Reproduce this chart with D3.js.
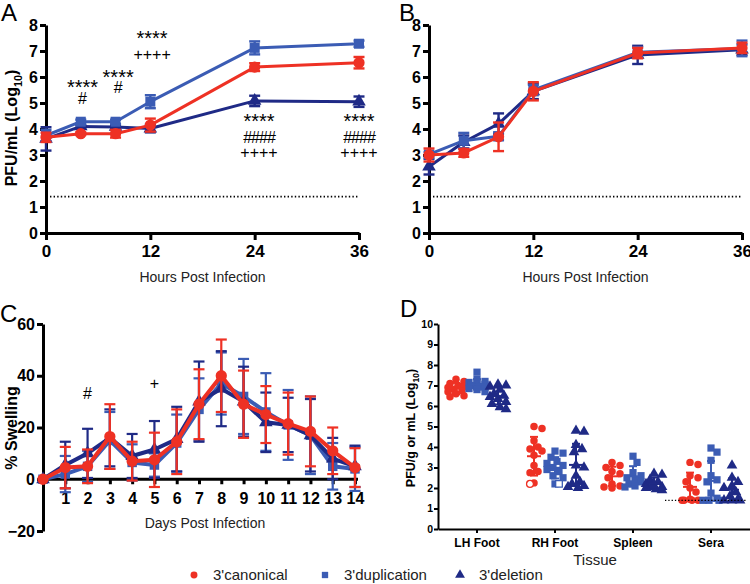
<!DOCTYPE html>
<html><head><meta charset="utf-8">
<script src="https://cdn.jsdelivr.net/npm/d3@7"></script>
<style>body{margin:0;background:#fff}</style>
</head><body><svg id="c" width="750" height="584"></svg>
<script>
// ---------- DATA ----------
const seriesNames = ["3'canonical", "3'duplication", "3'deletion"];
const seriesColors = ["#ee3124", "#3b5cb4", "#1f2a86"];

// Panel A (hours post infection, log10 PFU/mL)
const hours = [0, 4, 8, 12, 24, 36];
const aCanonical = [3.68, 3.82, 3.82, 4.15, 6.38, 6.55];
const aCanonicalErr = [0.18, 0.05, 0.15, 0.25, 0.15, 0.22];
const aDuplication = [3.75, 4.28, 4.28, 5.05, 7.12, 7.28];
const aDuplicationErr = [0.22, 0.08, 0.08, 0.25, 0.25, 0.12];
const aDeletion = [3.62, 4.10, 4.08, 4.02, 5.08, 5.05];
const aDeletionErr = [0.45, 0.05, 0.05, 0.15, 0.20, 0.20];

// Panel A significance annotations (hour, text, level in log units)
const annotHour = [4.2, 4.2, 8.3, 8.3, 12.2, 12.2, 24.5, 24.5, 24.5, 36, 36, 36];
const annotText = ["****", "#", "****", "#", "****", "++++", "****", "####", "++++", "****", "####", "++++"];
const annotLevel = [5.33, 4.98, 5.75, 5.38, 7.23, 6.65, 4.04, 3.46, 2.88, 4.04, 3.46, 2.88];

// Panel B
const bCanonical = [3.0, 3.08, 3.70, 5.45, 6.92, 7.12];
const bCanonicalErr = [0.25, 0.15, 0.55, 0.35, 0.20, 0.20];
const bDuplication = [3.02, 3.55, 3.72, 5.50, 6.95, 7.10];
const bDuplicationErr = [0.10, 0.30, 0.15, 0.20, 0.20, 0.30];
const bDeletion = [2.55, 3.50, 4.20, 5.45, 6.85, 7.05];
const bDeletionErr = [0.30, 0.25, 0.40, 0.30, 0.35, 0.20];

const limitOfDetection = 1.4;
const logTicks = [0, 1, 2, 3, 4, 5, 6, 7, 8];
const hourTicks = [0, 12, 24, 36];

// Panel C (% swelling)
const days = [0, 1, 2, 3, 4, 5, 6, 7, 8, 9, 10, 11, 12, 13, 14];
const cCanonical = [0, 4.5, 5, 16.5, 7, 7.5, 14.5, 29, 40, 29, 25, 21.5, 18.5, 11, 4.5];
const cCanonicalErr = [0, 8, 6.5, 12.5, 7.5, 10.5, 12.5, 13.5, 14, 13, 11, 12, 13.5, 9, 7.5];
const cDuplication = [0, 2, 5, 15, 6.5, 5.5, 14, 27, 37, 32, 26, 21, 17, 5, 4];
const cDuplicationErr = [0, 7, 6, 11, 7, 4.5, 11, 12, 12, 14.5, 15, 13.5, 15, 9, 8.5];
const cDeletion = [0, 5.5, 10, 16, 9, 11.5, 15.5, 30, 35, 30, 22, 21, 17, 8, 5];
const cDeletionErr = [0, 9, 9.5, 11, 8.5, 11, 12.5, 15.5, 14.5, 13.5, 11.5, 10.5, 14, 8, 8];
const swellTicks = [-20, 0, 20, 40, 60];
const cAnnotDay = [2, 5];
const cAnnotText = ["#", "+"];
const cAnnotLevel = [31, 35];

// Panel D (tissue titers, individual animals)
const tissues = ["LH Foot", "RH Foot", "Spleen", "Sera"];
const dCanonical = [
  [7.3, 7.2, 7.1, 7.0, 6.95, 6.9, 6.8, 6.75, 6.7, 6.6, 6.5, 6.45],
  [5.0, 4.9, 4.3, 4.0, 3.9, 3.8, 3.6, 3.1, 2.8, 2.75, 2.25],
  [3.25, 3.1, 3.0, 2.8, 2.7, 2.5, 2.2, 2.1, 2.05, 2.0],
  [3.25, 3.15, 2.6, 2.5, 2.3, 2.0, 1.8, 1.45, 1.4, 1.4, 1.4, 1.4]
];
const dDuplication = [
  [7.65, 7.3, 7.2, 7.15, 7.1, 7.05, 7.0, 6.95, 6.9, 6.85, 6.8, 6.7],
  [3.8, 3.7, 3.5, 3.3, 3.2, 3.1, 3.0, 2.9, 2.8, 2.6, 2.5, 2.2],
  [3.55, 3.25, 2.75, 2.6, 2.5, 2.4, 2.3, 2.2, 2.1, 2.05],
  [3.95, 3.75, 3.35, 2.6, 2.4, 2.3, 1.75, 1.5, 1.4, 1.4, 1.4]
];
const dDeletion = [
  [7.05, 7.0, 6.95, 6.8, 6.6, 6.5, 6.45, 6.35, 6.2, 6.1, 5.95, 5.85],
  [4.8, 4.75, 4.1, 3.9, 3.75, 3.1, 3.0, 2.6, 2.3, 2.2, 2.1, 2.05, 2.0],
  [2.7, 2.65, 2.4, 2.3, 2.2, 2.1, 2.05, 2.0, 1.95, 1.9],
  [3.1, 2.5, 2.3, 2.1, 2.0, 1.8, 1.6, 1.45, 1.4, 1.4, 1.4]
];
// hollow (open) symbols
const openTissue = ["RH Foot", "RH Foot"];
const openSeries = [0, 1];
const openValue = [2.2, 2.2];
const dTicks = [0, 1, 2, 3, 4, 5, 6, 7, 8, 9, 10];

// ---------- DRAWING ----------
const FONT = "'Liberation Sans', Arial, Helvetica, sans-serif";
const svg = d3.select("#c");
const shapes = [d3.symbolCircle, d3.symbolSquare, d3.symbolTriangle];

function styleAxis(g, fs, sw, weight) {
  g.select(".domain").attr("stroke", "#000").attr("stroke-width", sw);
  g.selectAll(".tick line").attr("stroke", "#000").attr("stroke-width", sw);
  g.selectAll(".tick text").attr("font-family", FONT).attr("font-size", fs)
    .attr("font-weight", weight || "bold").attr("fill", "#000");
}

function drawSeries(g, x, y, xs, vals, errs, si, o) {
  const color = seriesColors[si];
  const pts = xs.map((d, i) => ({ x: d, v: vals[i], e: errs[i] }));
  g.append("path").datum(pts)
    .attr("d", d3.line().x(d => x(d.x)).y(d => y(d.v)))
    .attr("fill", "none").attr("stroke", color).attr("stroke-width", o.lw)
    .attr("stroke-linejoin", "round");
  const eb = g.append("g").attr("stroke", color).attr("stroke-width", o.ew);
  const withErr = pts.filter(d => d.e > 0);
  eb.selectAll(".v").data(withErr).join("line")
    .attr("x1", d => x(d.x)).attr("x2", d => x(d.x))
    .attr("y1", d => y(d.v - d.e)).attr("y2", d => y(d.v + d.e));
  eb.selectAll(".t").data(withErr).join("line")
    .attr("x1", d => x(d.x) - o.cap / 2).attr("x2", d => x(d.x) + o.cap / 2)
    .attr("y1", d => y(d.v + d.e)).attr("y2", d => y(d.v + d.e));
  eb.selectAll(".b").data(withErr).join("line")
    .attr("x1", d => x(d.x) - o.cap / 2).attr("x2", d => x(d.x) + o.cap / 2)
    .attr("y1", d => y(d.v - d.e)).attr("y2", d => y(d.v - d.e));
  g.append("g").selectAll("path").data(pts).join("path")
    .attr("d", d3.symbol().type(shapes[si]).size(o.sizes[si]))
    .attr("transform", d => `translate(${x(d.x)},${y(d.v)})`)
    .attr("fill", color);
}

function panelLetter(t, x, y) {
  svg.append("text").attr("x", x).attr("y", y).text(t)
    .attr("font-family", FONT).attr("font-size", 24).attr("fill", "#000");
}

function axisTitle(t, x, y, fs) {
  svg.append("text").attr("x", x).attr("y", y).attr("text-anchor", "middle")
    .attr("font-family", FONT).attr("font-size", fs).attr("fill", "#222").text(t);
}

function logLabel(x, y, main, fs) {
  const t = svg.append("text").attr("transform", `translate(${x},${y}) rotate(-90)`)
    .attr("text-anchor", "middle").attr("font-family", FONT).attr("font-size", fs)
    .attr("font-weight", "bold").attr("fill", "#000");
  t.append("tspan").text(main + " (Log");
  t.append("tspan").text("10").attr("font-size", fs * 0.68).attr("dy", fs * 0.3);
  t.append("tspan").text(")").attr("dy", -fs * 0.3);
}

// ---- Panel A & B ----
function growthPanel(x0, x1, series, withAnnot) {
  const x = d3.scaleLinear([0, 36], [x0, x1]);
  const y = d3.scaleLinear([0, 8], [233, 25]);
  const g = svg.append("g");
  g.append("line").attr("x1", x(0) + 4).attr("x2", x(36)).attr("y1", y(limitOfDetection)).attr("y2", y(limitOfDetection))
    .attr("stroke", "#000").attr("stroke-width", 1.6).attr("stroke-dasharray", "1.4 2.2");
  const ya = g.append("g").attr("transform", `translate(${x0},0)`)
    .call(d3.axisLeft(y).tickValues(logTicks).tickSize(6).tickPadding(2).tickSizeOuter(0));
  styleAxis(ya, 16, 3);
  const xa = g.append("g").attr("transform", `translate(0,${y(0)})`)
    .call(d3.axisBottom(x).tickValues(hourTicks).tickSize(7).tickPadding(5).tickSizeOuter(0));
  styleAxis(xa, 17, 3);
  const o = { lw: 3, ew: 2.4, cap: 11, sizes: [100, 100, 80] };
  [2, 1, 0].forEach(si => drawSeries(g, x, y, hours, series[si][0], series[si][1], si, o));
  if (withAnnot) {
    g.append("g").selectAll("text").data(annotText).join("text")
      .attr("x", (d, i) => x(annotHour[i])).attr("y", (d, i) => y(annotLevel[i]))
      .attr("text-anchor", "middle").attr("font-family", FONT)
      .attr("font-size", d => d === "****" ? 20 : 16)
      .attr("letter-spacing", d => d === "####" ? -1 : 0)
      .attr("fill", "#000").text(d => d);
  }
  axisTitle("Hours Post Infection", (x0 + x1) / 2, 282, 14);
}
growthPanel(46, 359, [[aCanonical, aCanonicalErr], [aDuplication, aDuplicationErr], [aDeletion, aDeletionErr]], true);
growthPanel(429, 742, [[bCanonical, bCanonicalErr], [bDuplication, bDuplicationErr], [bDeletion, bDeletionErr]], false);
logLabel(17, 128, "PFU/mL", 16);
panelLetter("A", 1, 21);
panelLetter("B", 399, 21);

// ---- Panel C ----
{
  const x = d3.scaleLinear([0, 14], [43, 355]);
  const y = d3.scaleLinear([-20, 60], [531, 324]);
  const g = svg.append("g");
  const ya = g.append("g").attr("transform", `translate(${x(0)},0)`)
    .call(d3.axisLeft(y).tickValues(swellTicks).tickSize(6).tickPadding(2).tickSizeOuter(0));
  styleAxis(ya, 16, 3);
  const xa = g.append("g").attr("transform", `translate(0,${y(0)})`)
    .call(d3.axisBottom(x).tickValues(days.slice(1)).tickSize(5).tickPadding(8).tickSizeOuter(0));
  xa.select(".domain").attr("d", `M${x(0)},0H${x(14) + 3}`);
  styleAxis(xa, 16, 3);
  const o = { lw: 4, ew: 2.2, cap: 11, sizes: [100, 90, 80] };
  const cs = [[cCanonical, cCanonicalErr], [cDuplication, cDuplicationErr], [cDeletion, cDeletionErr]];
  [1, 2, 0].forEach(si => drawSeries(g, x, y, days, cs[si][0], cs[si][1], si, o));
  g.append("g").selectAll("text").data(cAnnotText).join("text")
    .attr("x", (d, i) => x(cAnnotDay[i])).attr("y", (d, i) => y(cAnnotLevel[i]))
    .attr("text-anchor", "middle").attr("font-family", FONT).attr("font-size", 16)
    .attr("fill", "#000").text(d => d);
  axisTitle("Days Post Infection", 205, 528, 14);
  svg.append("text").attr("transform", "translate(17,428) rotate(-90)").attr("text-anchor", "middle")
    .attr("font-family", FONT).attr("font-size", 16).attr("font-weight", "bold").text("% Swelling");
  panelLetter("C", 0, 322);
}

// ---- Panel D ----
{
  const x = d3.scaleBand(tissues, [438, 750]);
  const sub = d3.scalePoint([0, 1, 2], [-21, 21]);
  const y = d3.scaleLinear([0, 10], [529, 324]);
  const g = svg.append("g");
  const ya = g.append("g").attr("transform", `translate(438,0)`)
    .call(d3.axisLeft(y).tickValues(dTicks).tickSize(4).tickPadding(1).tickSizeOuter(0));
  styleAxis(ya, 10.5, 2);
  const xa = g.append("g").attr("transform", `translate(0,${y(0)})`)
    .call(d3.axisBottom(x).tickSize(4).tickPadding(5).tickSizeOuter(0));
  styleAxis(xa, 12, 2);

  const data = [dCanonical, dDuplication, dDeletion];
  const r = 3.4;
  function swarm(vals) {
    const pts = vals.map(v => ({ v, py: y(v) })).sort((a, b) => a.py - b.py);
    const cands = [0];
    for (let k = 1; k <= 4; k++) { cands.push(k * 2, -k * 2); }
    const placed = [];
    pts.forEach(p => {
      let best = 0, bestOv = Infinity;
      for (const c of cands) {
        let ov = 0;
        placed.forEach(q => { const d = Math.hypot(q.dx - c, q.py - p.py); if (d < 2 * r) ov += 2 * r - d; });
        if (ov < bestOv - 0.01) { bestOv = ov; best = c; }
        if (ov === 0) break;
      }
      p.dx = best; placed.push(p);
    });
    return placed;
  }
  const sizes = [44, 52, 50];
  tissues.forEach((t, ti) => {
    const cx0 = x(t) + x.bandwidth() / 2;
    [0, 1, 2].forEach(si => {
      const cx = cx0 + sub(si);
      const color = seriesColors[si];
      const vals = data[si][ti];
      const pts = swarm(vals);
      g.append("g").selectAll("path").data(pts).join("path")
        .attr("d", d3.symbol().type(shapes[si]).size(sizes[si]))
        .attr("transform", d => `translate(${cx + d.dx},${d.py})`).attr("fill", color);
      const all = vals.concat(openValue.filter((v, k) => openTissue[k] === t && openSeries[k] === si));
      const m = d3.mean(all), sd = d3.deviation(all);
      const eb = g.append("g").attr("stroke", color).attr("stroke-width", 2);
      eb.append("line").attr("x1", cx).attr("x2", cx).attr("y1", y(m - sd)).attr("y2", y(m + sd));
      eb.append("line").attr("x1", cx - 4).attr("x2", cx + 4).attr("y1", y(m + sd)).attr("y2", y(m + sd));
      eb.append("line").attr("x1", cx - 4).attr("x2", cx + 4).attr("y1", y(m - sd)).attr("y2", y(m - sd));
      eb.append("line").attr("x1", cx - 7).attr("x2", cx + 7).attr("y1", y(m)).attr("y2", y(m));
    });
  });
  // open symbols
  g.append("g").selectAll("path").data(openValue).join("path")
    .attr("d", (d, k) => d3.symbol().type(shapes[openSeries[k]]).size(sizes[openSeries[k]] * 0.85)())
    .attr("transform", (d, k) => {
      const cx = x(openTissue[k]) + x.bandwidth() / 2 + sub(openSeries[k]);
      return `translate(${cx + (openSeries[k] === 0 ? -4 : 4)},${y(d)})`;
    })
    .attr("fill", "#fff").attr("stroke", (d, k) => seriesColors[openSeries[k]]).attr("stroke-width", 1.3);
  // limit of detection line for sera (drawn over points)
  g.append("line").attr("x1", x("Sera") + x.bandwidth() / 2 - 46).attr("x2", x("Sera") + x.bandwidth() / 2 + 36)
    .attr("y1", y(limitOfDetection)).attr("y2", y(limitOfDetection))
    .attr("stroke", "#000").attr("stroke-width", 1.3).attr("stroke-dasharray", "1.3 2");

  axisTitle("Tissue", 595, 565, 15);
  logLabel(415, 428, "PFU/g or mL", 12.5);
  panelLetter("D", 400, 317);
}

// ---- Legend ----
{
  const lx = [194, 325, 460];
  const lg = svg.append("g");
  seriesNames.forEach((n, i) => {
    lg.append("path").attr("d", d3.symbol().type(shapes[i]).size([38, 40, 42][i]))
      .attr("transform", `translate(${lx[i]},575)`).attr("fill", seriesColors[i]);
    lg.append("text").attr("x", lx[i] + 19).attr("y", 580).text(n)
      .attr("font-family", FONT).attr("font-size", 15).attr("fill", "#222");
  });
}
</script></body></html>
